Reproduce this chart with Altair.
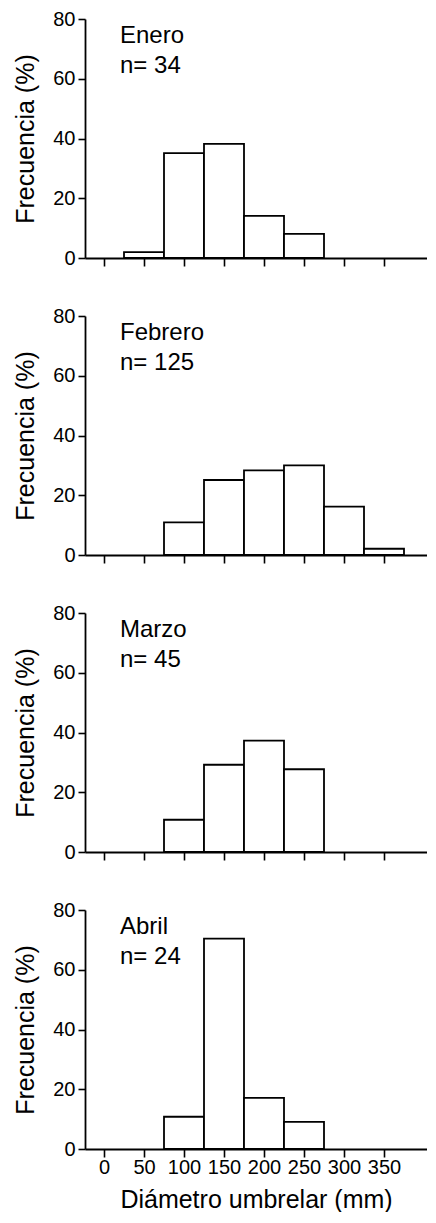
import altair as alt
import pandas as pd

# ---- data ----
months = ["Enero", "Febrero", "Marzo", "Abril"]
n_values = [34, 125, 45, 24]

bin_width = 50
enero_centers = [50, 100, 150, 200, 250]
enero_freq = [2.0, 35.1, 38.2, 14.1, 8.1]

febrero_centers = [100, 150, 200, 250, 300, 350]
febrero_freq = [10.9, 25.1, 28.3, 30.0, 16.2, 2.1]

marzo_centers = [100, 150, 200, 250]
marzo_freq = [10.8, 29.2, 37.3, 27.7]

abril_centers = [100, 150, 200, 250]
abril_freq = [10.8, 70.4, 17.1, 9.1]

x_ticks = [0, 50, 100, 150, 200, 250, 300, 350]
y_ticks = [0, 20, 40, 60, 80]

centers_all = [enero_centers, febrero_centers, marzo_centers, abril_centers]
freq_all = [enero_freq, febrero_freq, marzo_freq, abril_freq]

FONT = "Liberation Sans"
W = 342
H = 239
X_DOMAIN = [-23.75, -23.75 + W / 0.8]


def panel(i, bottom):
    df = pd.DataFrame({"center": centers_all[i], "freq": freq_all[i]})
    base = alt.Chart(df).transform_calculate(
        lo=f"datum.center - {bin_width / 2}",
        hi=f"datum.center + {bin_width / 2}",
        zero="0",
    )
    x_axis = alt.Axis(
        values=x_ticks,
        labels=bottom,
        title="Diámetro umbrelar (mm)" if bottom else None,
        tickSize=8,
        tickWidth=1.6,
        domainWidth=1.8,
        domainColor="black",
        tickColor="black",
        labelFontSize=20,
        labelFont=FONT,
        labelColor="black",
        labelPadding=0,
        labelOverlap=False,
        titleFontSize=25,
        titleFont=FONT,
        titleFontWeight="normal",
        titleColor="black",
        titlePadding=10,
        grid=False,
    )
    y_axis = alt.Axis(
        values=y_ticks,
        title="Frecuencia (%)",
        tickSize=7,
        tickWidth=1.6,
        domainWidth=1.8,
        domainColor="black",
        tickColor="black",
        labelFontSize=20,
        labelFont=FONT,
        labelColor="black",
        labelPadding=3,
        titleFontSize=25,
        titleFont=FONT,
        titleFontWeight="normal",
        titleColor="black",
        titlePadding=14,
        grid=False,
    )
    bars = base.mark_bar(fill="white", stroke="black", strokeWidth=1.8).encode(
        x=alt.X("lo:Q", scale=alt.Scale(domain=X_DOMAIN, nice=False, zero=False), axis=x_axis),
        x2="hi:Q",
        y=alt.Y("freq:Q", scale=alt.Scale(domain=[0, 80], nice=False), axis=y_axis),
        y2="zero:Q",
    )
    text_style = dict(align="left", baseline="alphabetic", fontSize=24, font=FONT, color="black")
    month_df = pd.DataFrame({"t": [months[i]]})
    n_df = pd.DataFrame({"t": [f"n= {n_values[i]}"]})
    month_label = alt.Chart(month_df).mark_text(**text_style).encode(
        x=alt.value(35), y=alt.value(24), text="t:N"
    )
    n_label = alt.Chart(n_df).mark_text(**text_style).encode(
        x=alt.value(35), y=alt.value(54), text="t:N"
    )
    return alt.layer(bars, month_label, n_label).properties(width=W, height=H)


chart = alt.vconcat(
    *[panel(i, i == 3) for i in range(4)], spacing=38
).properties(
    padding={"left": 5, "top": 1, "right": 0, "bottom": 0}
).configure(background="white").configure_view(stroke=None)

chart.save("out.html", embed_options={"renderer": "svg", "actions": False})
